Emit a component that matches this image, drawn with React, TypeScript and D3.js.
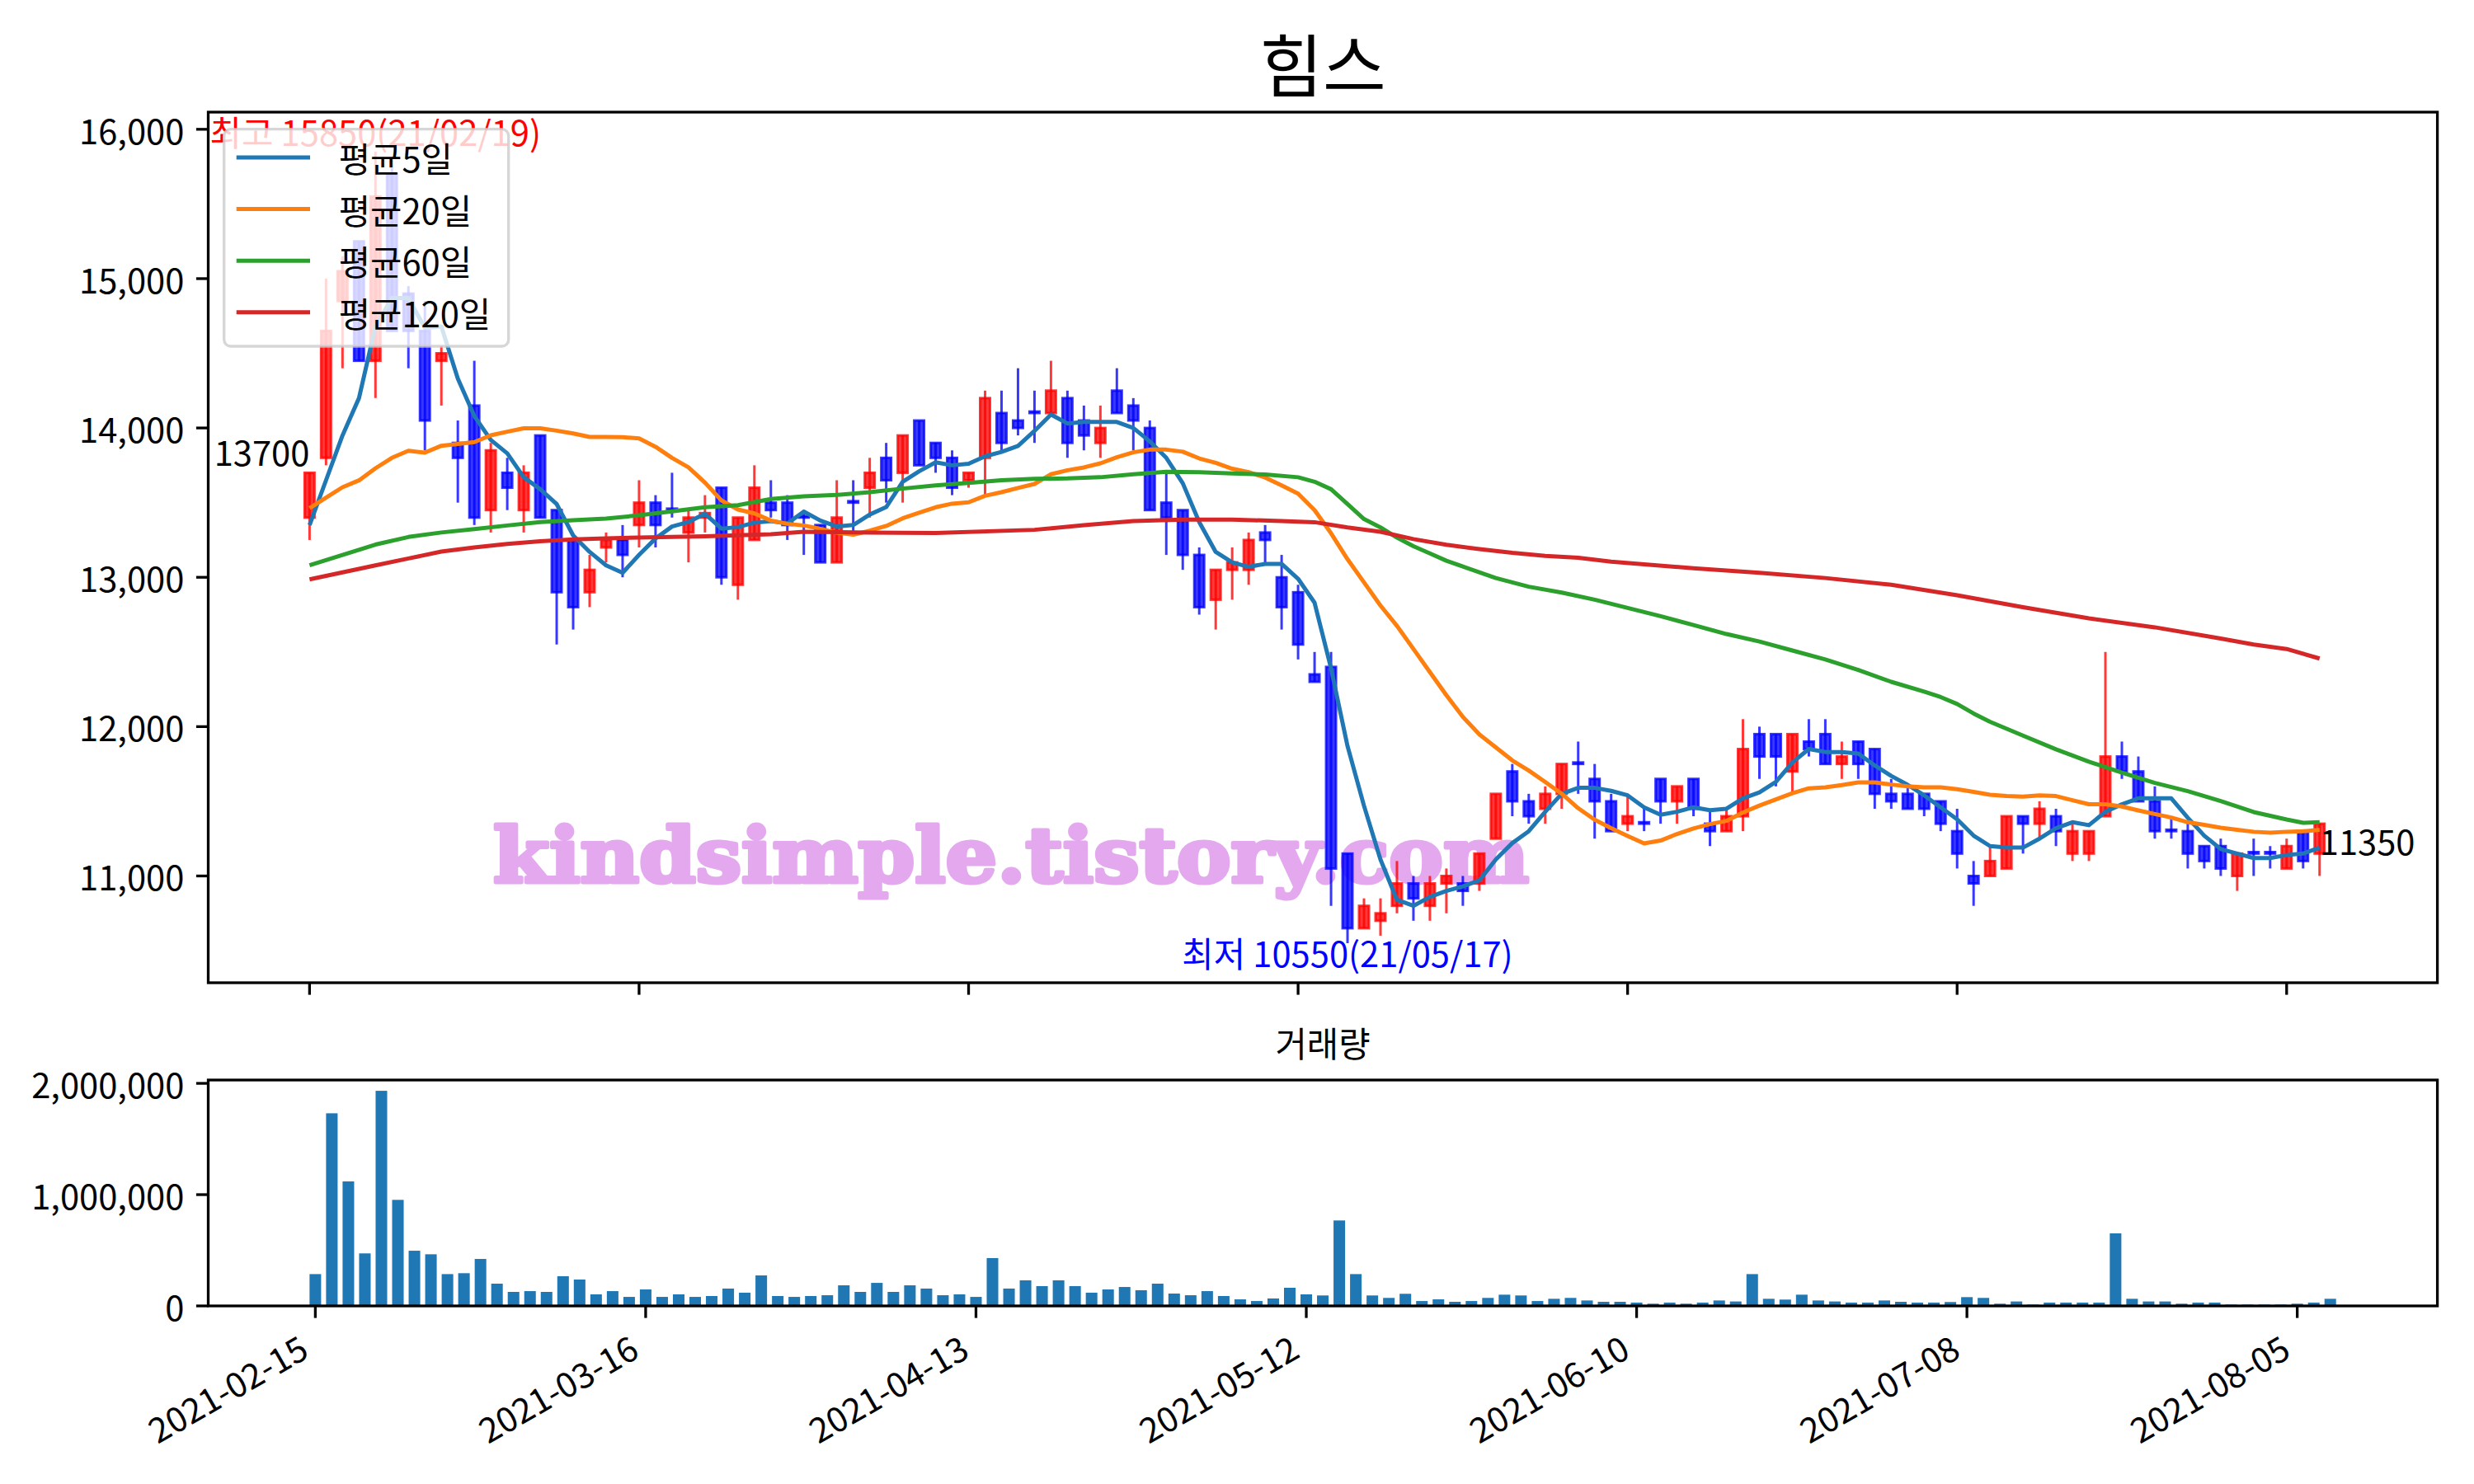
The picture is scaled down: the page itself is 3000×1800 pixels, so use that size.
import React from 'react';
import * as d3 from 'd3';

// ---------- data ----------
const opens = [13400,13800,14850,15250,14450,15700,14900,14650,14450,13900,
 14150,13450,13700,13450,13950,13450,13250,12900,13200,13250,
 13350,13500,13460,13300,13400,13600,12950,13250,13500,13500,
 13410,13350,13100,13510,13600,13800,13700,14050,13900,13800,
 13650,13800,14100,14050,14110,14100,14200,14050,13900,14250,
 14150,14000,13500,13450,13150,12850,13050,13050,13300,13000,
 12900,12350,12400,11150,10650,10700,10800,10950,10800,10950,
 10950,10950,11250,11700,11500,11450,11550,11760,11650,11500,
 11350,11360,11650,11500,11650,11350,11300,11400,11950,11950,
 11700,11900,11950,11750,11900,11850,11550,11550,11550,11500,
 11300,11000,11000,11050,11400,11350,11400,11150,11150,11400,
 11800,11700,11500,11310,11300,11200,11200,11000,11160,11160,
 11050,11300,11150];
const highs = [13700,15000,15150,15250,15850,15800,14950,14850,14550,14050,
 14450,13900,13800,13750,13950,13450,13250,13150,13300,13350,
 13650,13550,13700,13450,13550,13600,13400,13750,13650,13550,
 13450,13350,13650,13650,13800,13900,13950,14050,13900,13850,
 13700,14250,14250,14400,14250,14450,14250,14150,14150,14400,
 14200,14050,13700,13450,13200,13050,13200,13300,13350,13150,
 12950,12500,12500,11150,10850,10850,11100,11000,11000,11050,
 11000,11150,11550,11750,11550,11600,11750,11900,11750,11550,
 11550,11450,11650,11600,11650,11450,11450,12050,12000,11950,
 11950,12050,12050,11900,11900,11850,11650,11600,11550,11500,
 11450,11100,11200,11400,11400,11500,11450,11350,11300,12500,
 11900,11800,11600,11400,11350,11200,11250,11150,11250,11200,
 11250,11300,11350];
const lows = [13250,13750,14400,14450,14200,14650,14400,13850,14150,13500,
 13350,13300,13450,13300,13400,12550,12650,12800,13100,13000,
 13200,13200,13400,13100,13300,12950,12850,13250,13400,13250,
 13150,13100,13100,13300,13400,13500,13500,13750,13700,13550,
 13600,13550,13850,13950,13900,14100,13800,13850,13800,14100,
 13850,13450,13150,13050,12750,12650,12850,12950,13100,12650,
 12450,12300,10800,10550,10650,10600,10750,10700,10700,10750,
 10800,10900,11250,11400,11350,11350,11450,11550,11250,11300,
 11300,11300,11350,11350,11400,11200,11300,11300,11650,11600,
 11550,11800,11750,11650,11650,11450,11450,11450,11400,11300,
 11050,10800,11000,11050,11150,11250,11200,11100,11100,11400,
 11650,11500,11250,11250,11050,11050,11000,10900,11000,11050,
 11050,11050,11000];
const closes = [13700,14650,15050,14450,15550,14650,14650,14050,14500,13800,
 13400,13850,13600,13700,13400,12900,12800,13050,13250,13150,
 13500,13350,13450,13400,13430,13000,13400,13600,13450,13350,
 13400,13100,13400,13500,13700,13650,13950,13750,13800,13600,
 13700,14200,13900,14000,14100,14250,13900,13950,14000,14100,
 14050,13450,13400,13150,12800,13050,13100,13250,13250,12800,
 12550,12300,11050,10650,10800,10750,10950,10850,10950,11000,
 10900,11150,11550,11500,11400,11550,11750,11750,11500,11300,
 11400,11350,11500,11600,11450,11300,11400,11850,11800,11800,
 11950,11850,11750,11800,11750,11550,11500,11450,11450,11350,
 11150,10950,11100,11400,11350,11450,11300,11300,11300,11800,
 11700,11500,11300,11300,11150,11100,11050,11150,11150,11150,
 11200,11100,11350];
const volumes = [286000,1731000,1119000,472000,1933000,953000,496000,464000,286000,294000,
 422000,200000,126000,133000,126000,267000,237000,104000,133000,81000,
 148000,81000,104000,81000,89000,156000,119000,274000,89000,81000,
 89000,96000,185000,126000,207000,126000,185000,156000,96000,104000,
 81000,430000,156000,230000,178000,230000,178000,119000,148000,170000,
 141000,200000,111000,96000,133000,89000,59000,44000,67000,163000,
 104000,94000,768000,286000,94000,72000,109000,44000,59000,37000,
 44000,72000,101000,94000,44000,64000,72000,49000,37000,37000,
 30000,20000,30000,20000,30000,49000,40000,286000,64000,57000,
 101000,49000,40000,30000,30000,49000,37000,30000,30000,35000,
 79000,72000,20000,40000,12000,30000,30000,30000,30000,652000,
 64000,40000,40000,20000,30000,30000,12000,12000,12000,12000,
 20000,30000,64000];
const ma5 = [13350,13650,13950,14200,14680,14870,14870,14670,14680,14330,
 14080,13920,13830,13670,13590,13490,13280,13170,13080,13030,
 13150,13260,13340,13370,13426,13326,13336,13366,13376,13360,
 13440,13380,13340,13350,13420,13470,13640,13710,13770,13750,
 13760,13810,13840,13880,13980,14090,14030,14040,14040,14040,
 14000,13910,13800,13630,13370,13170,13100,13070,13090,13090,
 12990,12830,12390,11870,11470,11110,10840,10800,10860,10900,
 10930,10970,11110,11220,11300,11430,11550,11590,11590,11570,
 11540,11460,11410,11430,11460,11440,11450,11520,11560,11630,
 11760,11850,11830,11830,11820,11740,11670,11610,11540,11460,
 11380,11270,11200,11190,11190,11250,11320,11360,11340,11430,
 11480,11520,11520,11520,11390,11270,11180,11150,11120,11120,
 11140,11150,11190];
const ma20 = [13463,13533,13603,13649,13730,13800,13847,13835,13881,13893,
 13905,13951,13975,13998,13998,13982,13963,13940,13940,13938,
 13930,13874,13800,13736,13634,13515,13454,13428,13380,13358,
 13347,13325,13299,13285,13312,13344,13395,13432,13469,13493,
 13502,13546,13570,13598,13625,13690,13717,13736,13763,13804,
 13837,13855,13855,13841,13796,13767,13727,13704,13668,13616,
 13560,13450,13295,13121,12966,12811,12675,12520,12365,12210,
 12065,11948,11861,11774,11706,11629,11551,11454,11377,11320,
 11268,11218,11237,11281,11318,11347,11369,11425,11471,11513,
 11554,11587,11594,11609,11627,11627,11612,11600,11594,11594,
 11581,11563,11544,11535,11531,11539,11535,11507,11480,11480,
 11465,11439,11415,11391,11360,11342,11323,11309,11296,11290,
 11296,11299,11309];
const ma60Idx = [0,2,4,6,8,10,12,14,16,18,20,22,24,26,28,30,32,34,36,38,40,42,44,46,48,50,52,54,56,58,60,
 61,62,63,64,65,66,67,68,69,70,72,74,76,78,80,82,84,86,88,90,92,94,96,98,99,100,101,102,
 104,106,108,110,112,114,116,118,120,121,122];
const ma60 = [13080,13149,13219,13270,13300,13323,13347,13370,13382,13393,13415,13441,13469,13483,13524,13542,
 13552,13570,13594,13616,13632,13650,13659,13662,13670,13690,13706,13704,13696,13688,13670,
 13640,13590,13490,13390,13334,13266,13208,13160,13111,13072,12995,12937,12898,12850,12795,12740,
 12680,12620,12570,12510,12450,12380,12300,12235,12198,12152,12088,12032,
 11940,11848,11765,11692,11623,11568,11502,11428,11378,11356,11360];
const ma120Idx = [0,2,4,6,8,10,12,14,16,18,20,24,28,30,34,38,44,47,50,53,56,59,61,63,65,67,69,71,73,75,77,79,
 84,88,92,96,100,104,108,112,116,118,120,122];
const ma120 = [12986,13033,13080,13126,13172,13200,13224,13242,13254,13261,13266,13275,13288,13305,13300,13296,
 13318,13349,13377,13386,13386,13377,13369,13334,13305,13256,13218,13189,13164,13144,13131,13105,
 13060,13030,12995,12950,12880,12800,12725,12665,12590,12550,12520,12456];

const xTickIdx = [0, 20, 40, 60, 80, 100, 120];
const xTickLabels = ['2021-02-15','2021-03-16','2021-04-13','2021-05-12','2021-06-10','2021-07-08','2021-08-05'];
const priceTicks = [11000, 12000, 13000, 14000, 15000, 16000];
const volTicks = [0, 1000000, 2000000];
const legendLabels = ['평균5일', '평균20일', '평균60일', '평균120일'];
const maColors = ['#1f77b4', '#ff7f0e', '#2ca02c', '#d62728'];

const FONT = "'Noto Sans CJK KR', 'Noto Sans', sans-serif";
const FS = 41.7;

export default function App() {
  const L = 252.5, R = 2955.6;
  const mT = 136, mB = 1192;
  const vT = 1310, vB = 1584;
  const xMain = d3.scaleLinear().domain([-6.15, 129.15]).range([L, R]);
  const yMain = d3.scaleLinear().domain([10285, 16115]).range([mB, mT]);
  const xVol = d3.scaleLinear().domain([-6.485, 128.485]).range([L, R]);
  const yVol = d3.scaleLinear().domain([0, 2030000]).range([vB, vT]);
  const fmt = d3.format(',');

  const line = d3.line<[number, number]>().x(d => xMain(d[0])).y(d => yMain(d[1]));
  const maSeries: [number, number][][] = [
    ma5.map((v, i) => [i, v] as [number, number]),
    ma20.map((v, i) => [i, v] as [number, number]),
    ma60.map((v, i) => [ma60Idx[i], v] as [number, number]),
    ma120.map((v, i) => [ma120Idx[i], v] as [number, number]),
  ];

  const bw = xMain(0.6) - xMain(0);
  const vbw = xVol(0.7) - xVol(0);
  const tickLen = 14.6;

  const lastI = closes.length - 1;

  return (
    <svg width={3000} height={1800} style={{ position: 'absolute', left: 0, top: 0 }} fontFamily={FONT}>
      <rect x={0} y={0} width={3000} height={1800} fill="#ffffff" />
      <text x={(L + R) / 2} y={111} textAnchor="middle" fontSize={83.3} fill="#000">힘스</text>

      {/* watermark */}
      <text x={598} y={1070} fontFamily="'DejaVu Serif', serif" fontWeight="bold" fontSize={92}
        fill="#e4a8ee" stroke="#e4a8ee" strokeWidth={5} strokeLinejoin="round"
        textLength={1256} lengthAdjust="spacingAndGlyphs">kindsimple.tistory.com</text>

      {/* candles */}
      {closes.map((c, i) => {
        const o = opens[i];
        const up = c > o;
        const col = up ? '#ff0000' : '#0000ff';
        const x = xMain(i);
        const y1 = yMain(Math.max(o, c));
        const y2 = yMain(Math.min(o, c));
        return (
          <g key={i}>
            <line x1={x} x2={x} y1={yMain(highs[i])} y2={yMain(lows[i])} stroke={col} strokeOpacity={0.78} strokeWidth={3} />
            <rect x={x - bw / 2} y={y1} width={bw} height={Math.max(y2 - y1, 0.5)}
              fill={col} fillOpacity={0.78} stroke={col} strokeOpacity={0.78} strokeWidth={3} />
          </g>
        );
      })}

      {/* moving averages */}
      {maSeries.map((s, j) => (
        <path key={j} d={line(s) || ''} fill="none" stroke={maColors[j]} strokeWidth={5} strokeLinejoin="round" />
      ))}

      {/* annotations */}
      <text x={xMain(4)} y={yMain(15850) - 7} textAnchor="middle" fontSize={FS} fill="#ff0000">최고 15850(21/02/19)</text>
      <text x={xMain(63)} y={yMain(10550) + 29} textAnchor="middle" fontSize={FS} fill="#0000ff">최저 10550(21/05/17)</text>
      <text x={xMain(0)} y={yMain(closes[0]) - 8} textAnchor="end" fontSize={FS} fill="#000">{String(closes[0])}</text>
      <text x={xMain(lastI)} y={yMain(closes[lastI]) + 38} textAnchor="start" fontSize={FS} fill="#000">{String(closes[lastI])}</text>

      {/* legend */}
      <rect x={271.7} y={156.7} width={345} height={263.3} rx={8} fill="#ffffff" fillOpacity={0.8}
        stroke="#cccccc" strokeOpacity={0.8} strokeWidth={3.3} />
      {legendLabels.map((lab, j) => {
        const ly = 191 + j * 62.6;
        return (
          <g key={lab}>
            <line x1={286.7} x2={376} y1={ly} y2={ly} stroke={maColors[j]} strokeWidth={5} />
            <text x={410.7} y={ly} dominantBaseline="central" fontSize={FS} fill="#000">{lab}</text>
          </g>
        );
      })}

      {/* main axes */}
      <rect x={L} y={mT} width={R - L} height={mB - mT} fill="none" stroke="#000" strokeWidth={3.3} />
      {priceTicks.map(t => (
        <g key={t}>
          <line x1={L - tickLen} x2={L} y1={yMain(t)} y2={yMain(t)} stroke="#000" strokeWidth={3.3} />
          <text x={L - tickLen - 14.6} y={yMain(t)} textAnchor="end" dominantBaseline="central" fontSize={FS} fill="#000">{fmt(t)}</text>
        </g>
      ))}
      {xTickIdx.map(k => (
        <line key={k} x1={xMain(k)} x2={xMain(k)} y1={mB} y2={mB + tickLen} stroke="#000" strokeWidth={3.3} />
      ))}

      {/* volume */}
      <text x={(L + R) / 2} y={1282} textAnchor="middle" fontSize={FS} fill="#000">거래량</text>
      {volumes.map((v, i) => (
        <rect key={i} x={xVol(i) - vbw / 2} y={yVol(v)} width={vbw} height={yVol(0) - yVol(v)} fill="#1f77b4" />
      ))}
      <rect x={L} y={vT} width={R - L} height={vB - vT} fill="none" stroke="#000" strokeWidth={3.3} />
      {volTicks.map(t => (
        <g key={t}>
          <line x1={L - tickLen} x2={L} y1={yVol(t)} y2={yVol(t)} stroke="#000" strokeWidth={3.3} />
          <text x={L - tickLen - 14.6} y={yVol(t)} textAnchor="end" dominantBaseline="central" fontSize={FS} fill="#000">{fmt(t)}</text>
        </g>
      ))}
      {xTickIdx.map((k, j) => (
        <g key={k}>
          <line x1={xVol(k)} x2={xVol(k)} y1={vB} y2={vB + tickLen} stroke="#000" strokeWidth={3.3} />
          <text transform={`translate(${xVol(k) - 24},${vB + tickLen + 14.6}) rotate(-30)`} textAnchor="end"
            dy="0.88em" fontSize={FS} fill="#000">{xTickLabels[j]}</text>
        </g>
      ))}
    </svg>
  );
}
